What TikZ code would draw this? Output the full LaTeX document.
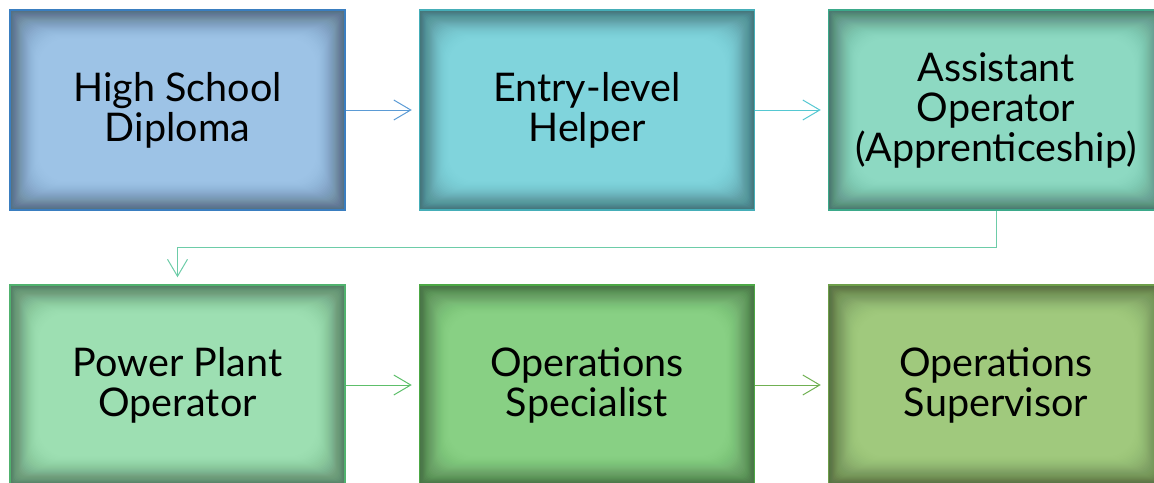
\documentclass[tikz,border=0pt]{standalone}
\usepackage{fontspec}
\setmainfont{Lato}
\usetikzlibrary{arrows.meta}
\definecolor{f1}{HTML}{9DC3E6}\definecolor{b1}{HTML}{3A7EC0}
\definecolor{f2}{HTML}{80D4DC}\definecolor{b2}{HTML}{45AEB8}
\definecolor{f3}{HTML}{8DD9C2}\definecolor{b3}{HTML}{3BA98A}
\definecolor{f4}{HTML}{9DDFB2}\definecolor{b4}{HTML}{50B26E}
\definecolor{f5}{HTML}{88D084}\definecolor{b5}{HTML}{4CA845}
\definecolor{f6}{HTML}{A0C97D}\definecolor{b6}{HTML}{6E9F4A}
\definecolor{a1}{HTML}{5B9BD5}\definecolor{a2}{HTML}{55C8D2}
\definecolor{a3}{HTML}{6DCCA8}\definecolor{a4}{HTML}{5DBF6A}
\definecolor{a5}{HTML}{70B052}
\tikzset{
  stagebox/.style={rectangle, minimum width=335pt, minimum height=200pt,
    line width=1.5pt, align=center, text=black,
    font=\fontsize{39.5}{40}\selectfont,
    path picture={
      \foreach \d in {1,...,30}{
        \pgfmathsetmacro{\op}{0.032*(1-\d/31)}
        \fill[black, opacity=\op, even odd rule]
          (path picture bounding box.south west) rectangle (path picture bounding box.north east)
          [rounded corners=0.9*\d pt]
          ([shift={(\d pt,\d pt)}]path picture bounding box.south west) rectangle
          ([shift={(-\d pt,-\d pt)}]path picture bounding box.north east);
      }
    }},
  flow/.style={line width=1pt, -{Straight Barb[length=17pt,width=20pt]}, shorten >=7pt}
}
\begin{document}
\begin{tikzpicture}[x=1pt,y=-1pt]
\useasboundingbox (0,0) rectangle (1154,482);
\node[stagebox, fill=f1, draw=b1] (n1) at (177.5,110) {High School\\Diploma};
\node[stagebox, fill=f2, draw=b2] (n2) at (587,110) {Entry-level\\Helper};
\node[stagebox, fill=f3, draw=b3] (n3) at (996,110) {Assistant\\Operator\\(Apprenticeship)};
\node[stagebox, fill=f4, draw=b4] (n4) at (177.5,385) {Power Plant\\Operator};
\node[stagebox, fill=f5, draw=b5] (n5) at (587,385) {Operations\\Specialist};
\node[stagebox, fill=f6, draw=b6] (n6) at (996,385) {Operations\\Supervisor};
\draw[flow, a1] (n1.east) -- (n2.west);
\draw[flow, a2] (n2.east) -- (n3.west);
\draw[flow, a3] (n3.south) -- ++(0,37) -| (n4.north);
\draw[flow, a4] (n4.east) -- (n5.west);
\draw[flow, a5] (n5.east) -- (n6.west);
\end{tikzpicture}
\end{document}
